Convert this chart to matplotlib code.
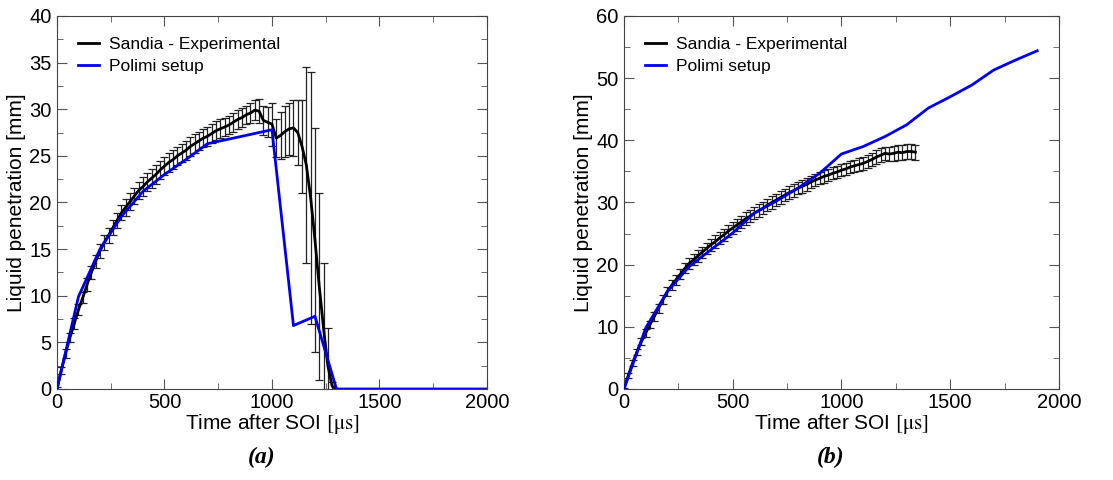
import matplotlib
matplotlib.use('Agg')
import matplotlib.pyplot as plt
from matplotlib.lines import Line2D
from matplotlib.ticker import MultipleLocator

plt.rcParams['font.family'] = ['Liberation Sans', 'DejaVu Sans']
plt.rcParams['mathtext.fontset'] = 'stix'

# ---- (a) experimental (Sandia) ----
t_exp_a = list(range(0, 1301, 20))
y_exp_a = [0.0, 2.0, 3.8, 5.5, 7.0, 8.5, 9.8, 11.2, 12.5, 13.7,
           14.8, 15.7, 16.5, 17.3, 18.1, 18.9, 19.5, 20.1, 20.7, 21.3,
           21.7, 22.2, 22.6, 23.0, 23.5, 23.9, 24.3, 24.6, 25.0, 25.3,
           25.6, 26.0, 26.3, 26.6, 26.9, 27.1, 27.4, 27.7, 27.9, 28.1,
           28.3, 28.6, 28.9, 29.1, 29.4, 29.6, 29.9, 29.8, 28.8, 28.6,
           28.4, 26.9, 27.2, 27.6, 27.9, 28.0, 27.5, 26.0, 24.0, 20.5,
           16.0, 11.0, 6.5, 2.5, 0.3, 0.0]
e_exp_a = [0.2, 0.4, 0.5, 0.5, 0.6, 0.6, 0.6, 0.7, 0.7, 0.7,
           0.7, 0.8, 0.8, 0.8, 0.8, 0.8, 0.9, 0.9, 0.9, 0.9,
           1.0, 1.0, 1.0, 1.0, 1.0, 1.0, 1.0, 1.0, 1.0, 1.0,
           1.0, 1.0, 1.0, 1.0, 1.0, 1.0, 1.0, 1.0, 1.0, 1.0,
           1.0, 1.0, 1.0, 1.0, 1.0, 1.1, 1.1, 1.3, 1.6, 1.6,
           2.3, 2.0, 2.5, 2.7, 2.8, 3.0, 3.5, 5.0, 10.5, 13.5,
           12.0, 10.0, 7.0, 4.0, 0.5, 0.0]

# ---- (a) Polimi setup ----
t_sim_a = [0, 100, 200, 300, 400, 500, 600, 700, 800, 900, 1000, 1100, 1200, 1300, 2000]
y_sim_a = [0.0, 9.9, 15.0, 18.5, 21.2, 23.0, 24.6, 26.3, 26.8, 27.3, 27.8, 6.8, 7.8, 0.0, 0.0]

# ---- (b) experimental (Sandia) ----
t_exp_b = list(range(0, 1341, 20))
y_exp_b = [0.0, 2.2, 4.2, 6.0, 7.6, 9.0, 10.4, 11.7, 13.0, 14.4,
           15.7, 16.7, 17.6, 18.5, 19.4, 20.2, 20.8, 21.4, 22.0, 22.6,
           23.2, 23.7, 24.3, 24.8, 25.4, 25.9, 26.4, 26.9, 27.4, 27.8,
           28.3, 28.7, 29.1, 29.6, 30.0, 30.4, 30.8, 31.2, 31.6, 31.9,
           32.3, 32.6, 32.9, 33.3, 33.6, 33.9, 34.2, 34.4, 34.7, 34.9,
           35.2, 35.4, 35.7, 35.9, 36.1, 36.3, 36.6, 36.9, 37.3, 37.6,
           37.9, 37.8, 37.9, 38.1, 38.0, 38.2, 38.2, 38.1]
e_exp_b = [0.2, 0.4, 0.5, 0.5, 0.6, 0.6, 0.6, 0.7, 0.7, 0.7,
           0.7, 0.8, 0.8, 0.8, 0.8, 0.9, 0.9, 0.9, 0.9, 0.9,
           1.0, 1.0, 1.0, 1.0, 1.0, 1.0, 1.0, 1.0, 1.0, 1.0,
           1.0, 1.0, 1.0, 1.0, 1.0, 1.0, 1.0, 1.0, 1.0, 1.0,
           1.0, 1.0, 1.0, 1.0, 1.0, 1.0, 1.0, 1.0, 1.0, 1.0,
           1.0, 1.0, 1.0, 1.0, 1.0, 1.0, 1.1, 1.1, 1.1, 1.1,
           1.1, 1.1, 1.2, 1.2, 1.2, 1.2, 1.2, 1.2]

# ---- (b) Polimi setup ----
t_sim_b = [0, 100, 200, 300, 400, 500, 600, 700, 800, 900, 1000,
           1100, 1200, 1300, 1400, 1500, 1600, 1700, 1800, 1900]
y_sim_b = [0.0, 9.8, 15.7, 19.7, 22.4, 25.1, 28.3, 30.2, 32.3, 34.7, 37.8,
           39.0, 40.6, 42.5, 45.2, 47.0, 48.9, 51.3, 52.9, 54.4]

fig = plt.figure(figsize=(11.13, 4.8), dpi=100)
ax1 = fig.add_axes([0.0512, 0.1896, 0.3863, 0.7771])
ax2 = fig.add_axes([0.5606, 0.1896, 0.3908, 0.7771])

panels = [
    (ax1, t_exp_a, y_exp_a, e_exp_a, t_sim_a, y_sim_a, 40, 5, 2.5),
    (ax2, t_exp_b, y_exp_b, e_exp_b, t_sim_b, y_sim_b, 60, 10, 5),
]

blue = '#0000ee'

for ax, te, ye, ee, ts, ys, ymax, ymaj, ymin in panels:
    ax.errorbar(te, ye, yerr=ee, color='black', ecolor='#222222', elinewidth=0.9,
                capsize=2.6, capthick=0.9, lw=2, zorder=2)
    ax.plot(ts, ys, color=blue, lw=2, zorder=3)

    ax.set_xlim(0, 2000)
    ax.set_ylim(0, ymax)
    ax.xaxis.set_major_locator(MultipleLocator(500))
    ax.xaxis.set_minor_locator(MultipleLocator(250))
    ax.yaxis.set_major_locator(MultipleLocator(ymaj))
    ax.yaxis.set_minor_locator(MultipleLocator(ymin))
    ax.tick_params(which='both', direction='in', top=True, right=True,
                   color='#555555', labelsize=14.5)
    ax.tick_params(axis='x', pad=3)
    ax.tick_params(axis='y', pad=4)
    ax.tick_params(which='major', length=7)
    ax.tick_params(which='minor', length=4)
    for edge in ['top', 'right', 'bottom', 'left']:
        ax.spines[edge].set_color('#444444')

    ax.set_xlabel('Time after SOI ' + r'$[\mathrm{\mu s}]$', fontsize=15, labelpad=0)
    ax.set_ylabel('Liquid penetration [mm]', fontsize=15, labelpad=2)

    handles = [Line2D([], [], color='black', lw=2), Line2D([], [], color=blue, lw=2)]
    ax.legend(handles, ['Sandia - Experimental', 'Polimi setup'], loc='upper left',
              frameon=False, fontsize=12.5, handlelength=1.2, handletextpad=0.6,
              borderaxespad=0.8, labelspacing=0.4)

fig.text(0.235, 0.046, '(a)', fontsize=17, fontweight='bold', fontstyle='italic',
         family='Liberation Serif', ha='center', va='center')
fig.text(0.746, 0.046, '(b)', fontsize=17, fontweight='bold', fontstyle='italic',
         family='Liberation Serif', ha='center', va='center')

fig.savefig('out.png', dpi=100)
